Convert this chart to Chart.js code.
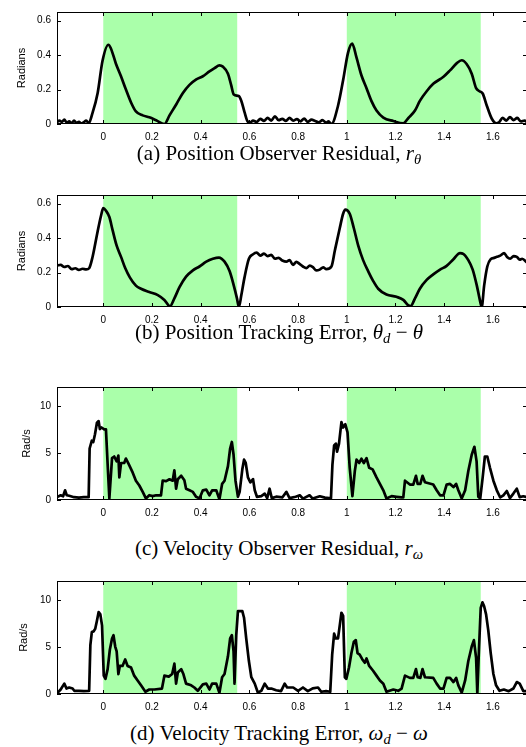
<!DOCTYPE html>
<html>
<head>
<meta charset="utf-8">
<script src="https://cdn.jsdelivr.net/npm/chart.js@4.4.1/dist/chart.umd.min.js"></script>
<style>
body { margin:0; background:#fff; width:526px; height:747px; overflow:hidden; position:relative; }
canvas { position:absolute; left:0; }
.cap { position:absolute; left:0; width:558px; text-align:center; font-family:"Liberation Serif","Times New Roman",serif; font-size:21px; line-height:24px; color:#000; white-space:nowrap; }
.m { font-style:italic; }
.sub { font-size:70%; position:relative; top:0.3em; font-style:italic; }
</style>
</head>
<body>
<canvas id="cA" width="530" height="150" style="top:0px"></canvas>
<canvas id="cB" width="530" height="150" style="top:183px"></canvas>
<canvas id="cC" width="530" height="151" style="top:375px"></canvas>
<canvas id="cD" width="530" height="151" style="top:569px"></canvas>
<div class="cap" style="top:141px">(a) Position Observer Residual, <span class="m">r</span><span class="sub">θ</span></div>
<div class="cap" style="top:320px">(b) Position Tracking Error, <span class="m">θ</span><span class="sub">d</span> − <span class="m">θ</span></div>
<div class="cap" style="top:536px">(c) Velocity Observer Residual, <span class="m">r</span><span class="sub">ω</span></div>
<div class="cap" style="top:721px">(d) Velocity Tracking Error, <span class="m">ω</span><span class="sub">d</span> − <span class="m">ω</span></div>
<script>
const xMin = -0.19, xMax = 1.74;
const xTicks = [0, 0.2, 0.4, 0.6, 0.8, 1, 1.2, 1.4, 1.6];
const radTicks = [0, 0.2, 0.4, 0.6];
const velTicks = [0, 5, 10];
// shaded intervals (green)
const bandStart = [0, 1.0];
const bandEnd = [0.55, 1.55];

// (a) position observer residual
const posResT = [-0.19, -0.18, -0.17, -0.16, -0.15, -0.14, -0.13, -0.12, -0.11, -0.10, -0.09, -0.08, -0.07, -0.06,
  -0.045, -0.023, -0.003, 0.021, 0.031, 0.052, 0.072, 0.093, 0.114, 0.134, 0.162, 0.189, 0.217, 0.251,
  0.272, 0.30, 0.327, 0.354, 0.382, 0.409, 0.436, 0.457, 0.477, 0.491, 0.512, 0.525, 0.536, 0.556, 0.567, 0.58, 0.594, 0.604,
  0.615, 0.63, 0.645, 0.66, 0.675, 0.69, 0.705, 0.72, 0.735, 0.75, 0.765, 0.78, 0.795, 0.81, 0.825, 0.84, 0.855, 0.87, 0.885, 0.90, 0.915, 0.925, 0.937,
  0.964, 0.985, 1.005, 1.022, 1.04, 1.06, 1.081, 1.101, 1.122, 1.15, 1.191, 1.232,
  1.253, 1.28, 1.30, 1.328, 1.355, 1.397, 1.424, 1.451, 1.472, 1.492, 1.513, 1.531, 1.545, 1.558, 1.575, 1.595, 1.613,
  1.625, 1.64, 1.655, 1.67, 1.685, 1.70, 1.715, 1.73, 1.74];
const posResV = [0.01, 0.02, 0.012, 0.025, 0.008, 0.015, 0.004, 0.02, 0.006, 0.012, 0.003, 0.01, 0.02, 0.004,
  0.06, 0.18, 0.367, 0.46, 0.44, 0.35, 0.28, 0.2, 0.125, 0.073, 0.05, 0.039, 0.022, 0.0,
  0.05, 0.115, 0.18, 0.227, 0.259, 0.277, 0.305, 0.324, 0.34, 0.333, 0.292, 0.227, 0.171, 0.162, 0.134, 0.069, 0.013, 0.01,
  0.02, 0.012, 0.03, 0.018, 0.035, 0.02, 0.045, 0.022, 0.03, 0.018, 0.035, 0.02, 0.028, 0.015, 0.032, 0.012, 0.025, 0.018, 0.01, 0.022, 0.008, 0.015, 0.0,
  0.106, 0.255, 0.413, 0.466, 0.385, 0.283, 0.208, 0.134, 0.078, 0.037, 0.017, 0.004,
  0.035, 0.078, 0.134, 0.19, 0.233, 0.274, 0.311, 0.352, 0.37, 0.348, 0.292, 0.208, 0.19, 0.177, 0.106, 0.032, 0.004,
  0.01, 0.035, 0.02, 0.04, 0.022, 0.035, 0.015, 0.02, 0.01];

// (b) position tracking error
const posErrT = [-0.19, -0.175, -0.16, -0.145, -0.13, -0.115, -0.10, -0.085, -0.07, -0.058, -0.044, -0.023, -0.009, 0.0,
  0.011, 0.025, 0.038, 0.055, 0.073, 0.09, 0.109, 0.134, 0.155, 0.189, 0.224, 0.251, 0.274,
  0.292, 0.313, 0.34, 0.368, 0.395, 0.423, 0.45, 0.475, 0.498, 0.519, 0.536, 0.549, 0.557, 0.567, 0.58, 0.598, 0.614,
  0.63, 0.645, 0.66, 0.675, 0.69, 0.705, 0.72, 0.735, 0.752, 0.765, 0.779, 0.793, 0.806, 0.82, 0.834, 0.848, 0.861, 0.875, 0.889, 0.903, 0.916, 0.937,
  0.951, 0.971, 0.985, 0.994, 1.012, 1.029, 1.047, 1.067, 1.088, 1.108, 1.129, 1.163, 1.204, 1.232, 1.253, 1.262,
  1.28, 1.30, 1.328, 1.355, 1.383, 1.41, 1.437, 1.465, 1.478, 1.499, 1.517, 1.534, 1.545, 1.554,
  1.564, 1.577, 1.591, 1.605, 1.616, 1.63, 1.646, 1.658, 1.671, 1.685, 1.698, 1.71, 1.72, 1.74];
const posErrV = [0.24, 0.245, 0.232, 0.238, 0.22, 0.225, 0.215, 0.222, 0.218, 0.225, 0.29, 0.44, 0.531, 0.574,
  0.559, 0.522, 0.448, 0.356, 0.291, 0.226, 0.172, 0.124, 0.106, 0.087, 0.069, 0.041, 0.004,
  0.05, 0.115, 0.176, 0.213, 0.235, 0.263, 0.28, 0.287, 0.263, 0.207, 0.124, 0.05, 0.0, 0.069, 0.172, 0.28, 0.305,
  0.315, 0.298, 0.31, 0.295, 0.302, 0.28, 0.285, 0.27, 0.263, 0.272, 0.244, 0.262, 0.25, 0.235, 0.226, 0.24, 0.231, 0.212, 0.217, 0.23, 0.22, 0.235,
  0.328, 0.457, 0.541, 0.565, 0.541, 0.457, 0.356, 0.272, 0.207, 0.152, 0.106, 0.072, 0.059, 0.041, 0.009, 0.005,
  0.05, 0.106, 0.157, 0.189, 0.217, 0.239, 0.276, 0.313, 0.309, 0.272, 0.217, 0.124, 0.05, 0.0,
  0.124, 0.235, 0.278, 0.285, 0.291, 0.298, 0.313, 0.29, 0.28, 0.295, 0.291, 0.275, 0.28, 0.258];

// (c) velocity observer residual
const velResT = [-0.19, -0.175, -0.165, -0.157, -0.15, -0.14, -0.12, -0.10, -0.08, -0.06,
  -0.056, -0.047, -0.041, -0.034, -0.026, -0.019, -0.014, -0.007, 0.004, 0.011,
  0.018, 0.025, 0.036, 0.045, 0.055, 0.062, 0.066, 0.073, 0.086, 0.093,
  0.104, 0.121, 0.134, 0.148, 0.162, 0.175, 0.189, 0.203, 0.217, 0.237,
  0.244, 0.258, 0.272, 0.285, 0.292, 0.299, 0.306, 0.32, 0.333, 0.34,
  0.354, 0.368, 0.381, 0.395, 0.409, 0.423, 0.436, 0.447, 0.464, 0.477,
  0.488, 0.498, 0.512, 0.521, 0.528, 0.535, 0.543, 0.553, 0.56, 0.571,
  0.578, 0.585, 0.594, 0.604, 0.615, 0.622, 0.631, 0.649, 0.663, 0.673,
  0.683, 0.692, 0.71, 0.735, 0.752, 0.765, 0.79, 0.807, 0.82, 0.847,
  0.86, 0.889, 0.91, 0.935,
  0.941, 0.948, 0.955, 0.96, 0.968, 0.978, 0.985, 0.994, 1.003, 1.012,
  1.023, 1.033, 1.04, 1.051, 1.06, 1.07, 1.081, 1.092, 1.106, 1.122,
  1.136, 1.15, 1.163, 1.184, 1.204, 1.225, 1.232, 1.239, 1.259, 1.273,
  1.284, 1.291, 1.302, 1.311, 1.321, 1.355, 1.369, 1.383, 1.397, 1.41,
  1.424, 1.438, 1.449, 1.458, 1.472, 1.486, 1.499, 1.513, 1.524, 1.533,
  1.54, 1.548, 1.558, 1.567, 1.577, 1.588, 1.602, 1.616, 1.63, 1.643,
  1.657, 1.67, 1.684, 1.698, 1.71, 1.725, 1.74];
const velResV = [0.3, 0.5, 0.4, 1.03, 0.5, 0.45, 0.3, 0.25, 0.3, 0.3,
  5.47, 6.3, 6.16, 6.98, 8.21, 8.38, 7.53, 7.7, 7.5, 7.5,
  3.76, 0.17, 4.45, 4.62, 4.1, 4.72, 2.4, 3.93, 3.93, 4.4,
  3.83, 2.9, 2.05, 1.54, 0.86, 0.17, 0.51, 0.41, 0.5, 0.5,
  2.05, 2.0, 2.2, 2.05, 3.15, 1.2, 2.2, 2.57, 2.1, 1.2,
  1.03, 0.86, 0.34, 0.17, 1.03, 1.1, 0.5, 1.03, 1.03, 0.07,
  1.71, 2.05, 3.6, 5.47, 6.16, 4.8, 2.05, 0.34, 0.86, 3.26,
  4.28, 3.93, 2.4, 1.88, 2.22, 1.03, 0.34, 0.41, 0.68, 0.2,
  1.2, 0.2, 0.35, 0.27, 0.86, 0.2, 0.35, 0.5, 0.15, 0.5,
  0.15, 0.4, 0.25, 0.17,
  3.76, 5.8, 5.99, 5.13, 5.99, 8.28, 7.7, 8.04, 7.19, 3.42,
  0.41, 3.08, 4.28, 3.93, 4.38, 3.93, 4.45, 3.42, 3.25, 2.4,
  1.71, 1.03, 0.17, 0.41, 0.34, 0.27, 0.27, 2.05, 1.64, 1.64,
  2.57, 1.71, 1.71, 2.57, 1.88, 1.64, 1.03, 0.5, 0.5, 1.64,
  1.71, 1.37, 1.71, 1.03, 0.17, 1.03, 3.08, 4.8, 5.65, 4.1,
  0.34, 0.17, 2.4, 4.62, 4.62, 3.42, 2.05, 1.03, 0.27, 0.5,
  0.96, 0.2, 0.68, 1.2, 0.3, 0.4, 0.3];

// (d) velocity tracking error
const velErrT = [-0.19, -0.175, -0.16, -0.151, -0.14, -0.126, -0.119, -0.10, -0.08, -0.058,
  -0.053, -0.047, -0.040, -0.033, -0.026, -0.019, -0.012, -0.005, 0.002, 0.009,
  0.018, 0.027, 0.036, 0.042, 0.049, 0.055, 0.062, 0.068, 0.079, 0.09,
  0.1, 0.114, 0.127, 0.141, 0.155, 0.173, 0.189, 0.21, 0.241, 0.251,
  0.269, 0.283, 0.292, 0.299, 0.306, 0.32, 0.329, 0.34, 0.361, 0.374,
  0.388, 0.409, 0.423, 0.436, 0.447, 0.464, 0.477, 0.488, 0.498, 0.512,
  0.521, 0.528, 0.535, 0.539, 0.546, 0.553, 0.571, 0.578, 0.587, 0.598,
  0.608, 0.622, 0.635, 0.649, 0.663, 0.676, 0.69, 0.71, 0.73, 0.745,
  0.755, 0.78, 0.80, 0.82, 0.84, 0.86, 0.882, 0.895, 0.915, 0.932,
  0.94, 0.948, 0.955, 0.964, 0.971, 0.978, 0.985, 0.992, 0.998, 1.009,
  1.019, 1.029, 1.037, 1.044, 1.053, 1.064, 1.074, 1.081, 1.092, 1.108,
  1.122, 1.136, 1.15, 1.163, 1.191, 1.211, 1.225, 1.239, 1.259, 1.273,
  1.284, 1.291, 1.302, 1.311, 1.321, 1.355, 1.369, 1.383, 1.397, 1.41,
  1.424, 1.438, 1.449, 1.458, 1.472, 1.486, 1.499, 1.513, 1.522, 1.531,
  1.536, 1.543, 1.55, 1.557, 1.564, 1.572, 1.581, 1.591, 1.602, 1.613,
  1.627, 1.645, 1.665, 1.684, 1.698, 1.71, 1.725, 1.74];
const velErrV = [0.07, 0.48, 1.1, 0.58, 0.69, 0.58, 0.34, 0.34, 0.3, 0.34,
  5.2, 6.58, 6.65, 6.92, 7.78, 8.7, 8.46, 7.26, 1.95, 1.61,
  2.64, 4.7, 5.9, 6.24, 5.04, 4.52, 2.12, 2.98, 2.98, 3.67,
  2.98, 2.81, 1.95, 1.44, 0.92, 0.24, 0.48, 0.48, 0.58, 1.95,
  1.85, 2.12, 3.22, 1.1, 2.29, 2.64, 2.12, 1.1, 0.92, 0.69,
  0.34, 1.03, 1.1, 0.48, 1.1, 1.1, 0.14, 1.78, 2.12, 4.0,
  5.9, 6.24, 4.52, 1.1, 6.24, 8.8, 8.8, 8.1, 5.9, 3.5,
  1.78, 1.1, 0.14, 0.34, 1.1, 0.58, 0.58, 0.4, 0.3, 1.1,
  0.69, 0.69, 0.34, 0.69, 0.3, 0.6, 0.69, 0.24, 0.3, 0.24,
  4.18, 6.41, 5.9, 5.9, 7.26, 8.63, 8.29, 1.78, 1.61, 2.81,
  4.35, 5.55, 5.72, 4.35, 4.18, 3.67, 3.32, 3.77, 2.98, 2.47,
  1.95, 1.44, 1.1, 0.24, 0.48, 0.34, 0.58, 1.95, 1.71, 1.71,
  2.64, 1.78, 1.71, 2.64, 1.78, 1.71, 1.1, 0.58, 0.58, 1.71,
  1.71, 1.27, 1.71, 0.92, 0.14, 1.44, 3.5, 5.04, 5.72, 3.84,
  0.07, 4.87, 9.15, 9.73, 9.32, 8.46, 6.75, 4.35, 2.12, 0.92,
  0.34, 0.48, 0.3, 0.58, 1.27, 1.1, 0.3, 0.3];

const tickFont = { family: 'Liberation Sans, Arial, sans-serif', size: 10 };
const labelFont = { family: 'Liberation Sans, Arial, sans-serif', size: 11 };

const shadePlugin = {
  id: 'shade',
  beforeDatasetsDraw(chart) {
    const { ctx, chartArea: a, scales: { x } } = chart;
    ctx.save();
    ctx.fillStyle = '#aaffaa';
    for (let i = 0; i < bandStart.length; i++) {
      const x0 = x.getPixelForValue(bandStart[i]);
      const x1 = x.getPixelForValue(bandEnd[i]);
      ctx.fillRect(x0, a.top, x1 - x0, a.bottom - a.top);
    }
    ctx.restore();
  }
};

// box round the plot, ticks pointing inward on all four sides
const framePlugin = {
  id: 'frame',
  afterDatasetsDraw(chart) {
    const { ctx, chartArea: a, scales: { x, y } } = chart;
    ctx.save();
    ctx.strokeStyle = '#000';
    ctx.lineWidth = 1;
    ctx.beginPath();
    x.ticks.forEach(t => {
      const px = Math.round(x.getPixelForValue(t.value)) + 0.5;
      ctx.moveTo(px, a.bottom); ctx.lineTo(px, a.bottom - 4);
      ctx.moveTo(px, a.top); ctx.lineTo(px, a.top + 4);
    });
    y.ticks.forEach(t => {
      const py = Math.round(y.getPixelForValue(t.value)) + 0.5;
      ctx.moveTo(a.left, py); ctx.lineTo(a.left + 4, py);
      ctx.moveTo(a.right, py); ctx.lineTo(a.right - 4, py);
    });
    ctx.stroke();
    ctx.strokeRect(Math.round(a.left) + 0.5, Math.round(a.top) + 0.5,
      Math.round(a.right - a.left) - 1, Math.round(a.bottom - a.top) - 1);
    ctx.restore();
  }
};

function makePanel(id, tArr, vArr, yMax, yTicks, yTitle, titlePad, smooth) {
  const pts = tArr.map((t, i) => ({ x: t, y: vArr[i] }));
  return new Chart(document.getElementById(id), {
    type: 'line',
    data: {
      datasets: [{
        data: pts,
        borderColor: '#000',
        borderWidth: 2.7,
        pointRadius: 0,
        fill: false,
        tension: 0,
        cubicInterpolationMode: smooth ? 'monotone' : 'default',
        borderJoinStyle: 'round'
      }]
    },
    options: {
      responsive: false,
      animation: false,
      layout: { padding: { top: 8, right: 3, bottom: 0, left: 0 } },
      plugins: { legend: { display: false }, tooltip: { enabled: false } },
      scales: {
        x: {
          type: 'linear', min: xMin, max: xMax,
          afterBuildTicks: s => { s.ticks = xTicks.map(value => ({ value })); },
          afterFit: s => { s.height = 26; },
          grid: { display: false, drawTicks: false },
          border: { display: false },
          ticks: { padding: 7, color: '#000', font: tickFont, maxRotation: 0, autoSkip: false, callback: v => String(v) }
        },
        y: {
          min: 0, max: yMax,
          afterBuildTicks: s => { s.ticks = yTicks.map(value => ({ value })); },
          afterFit: s => { s.width = 57; },
          grid: { display: false, drawTicks: false },
          border: { display: false },
          ticks: { padding: 6, color: '#000', font: tickFont, callback: v => String(v) },
          title: { display: true, text: yTitle, color: '#000', font: labelFont, padding: { top: titlePad, bottom: 0 } }
        }
      }
    },
    plugins: [shadePlugin, framePlugin]
  });
}

makePanel('cA', posResT, posResV, 0.65, radTicks, 'Radians', 15, true);
makePanel('cB', posErrT, posErrV, 0.65, radTicks, 'Radians', 15, true);
makePanel('cC', velResT, velResV, 12, velTicks, 'Rad/s', 20, false);
makePanel('cD', velErrT, velErrV, 12, velTicks, 'Rad/s', 17, false);
</script>
</body>
</html>
